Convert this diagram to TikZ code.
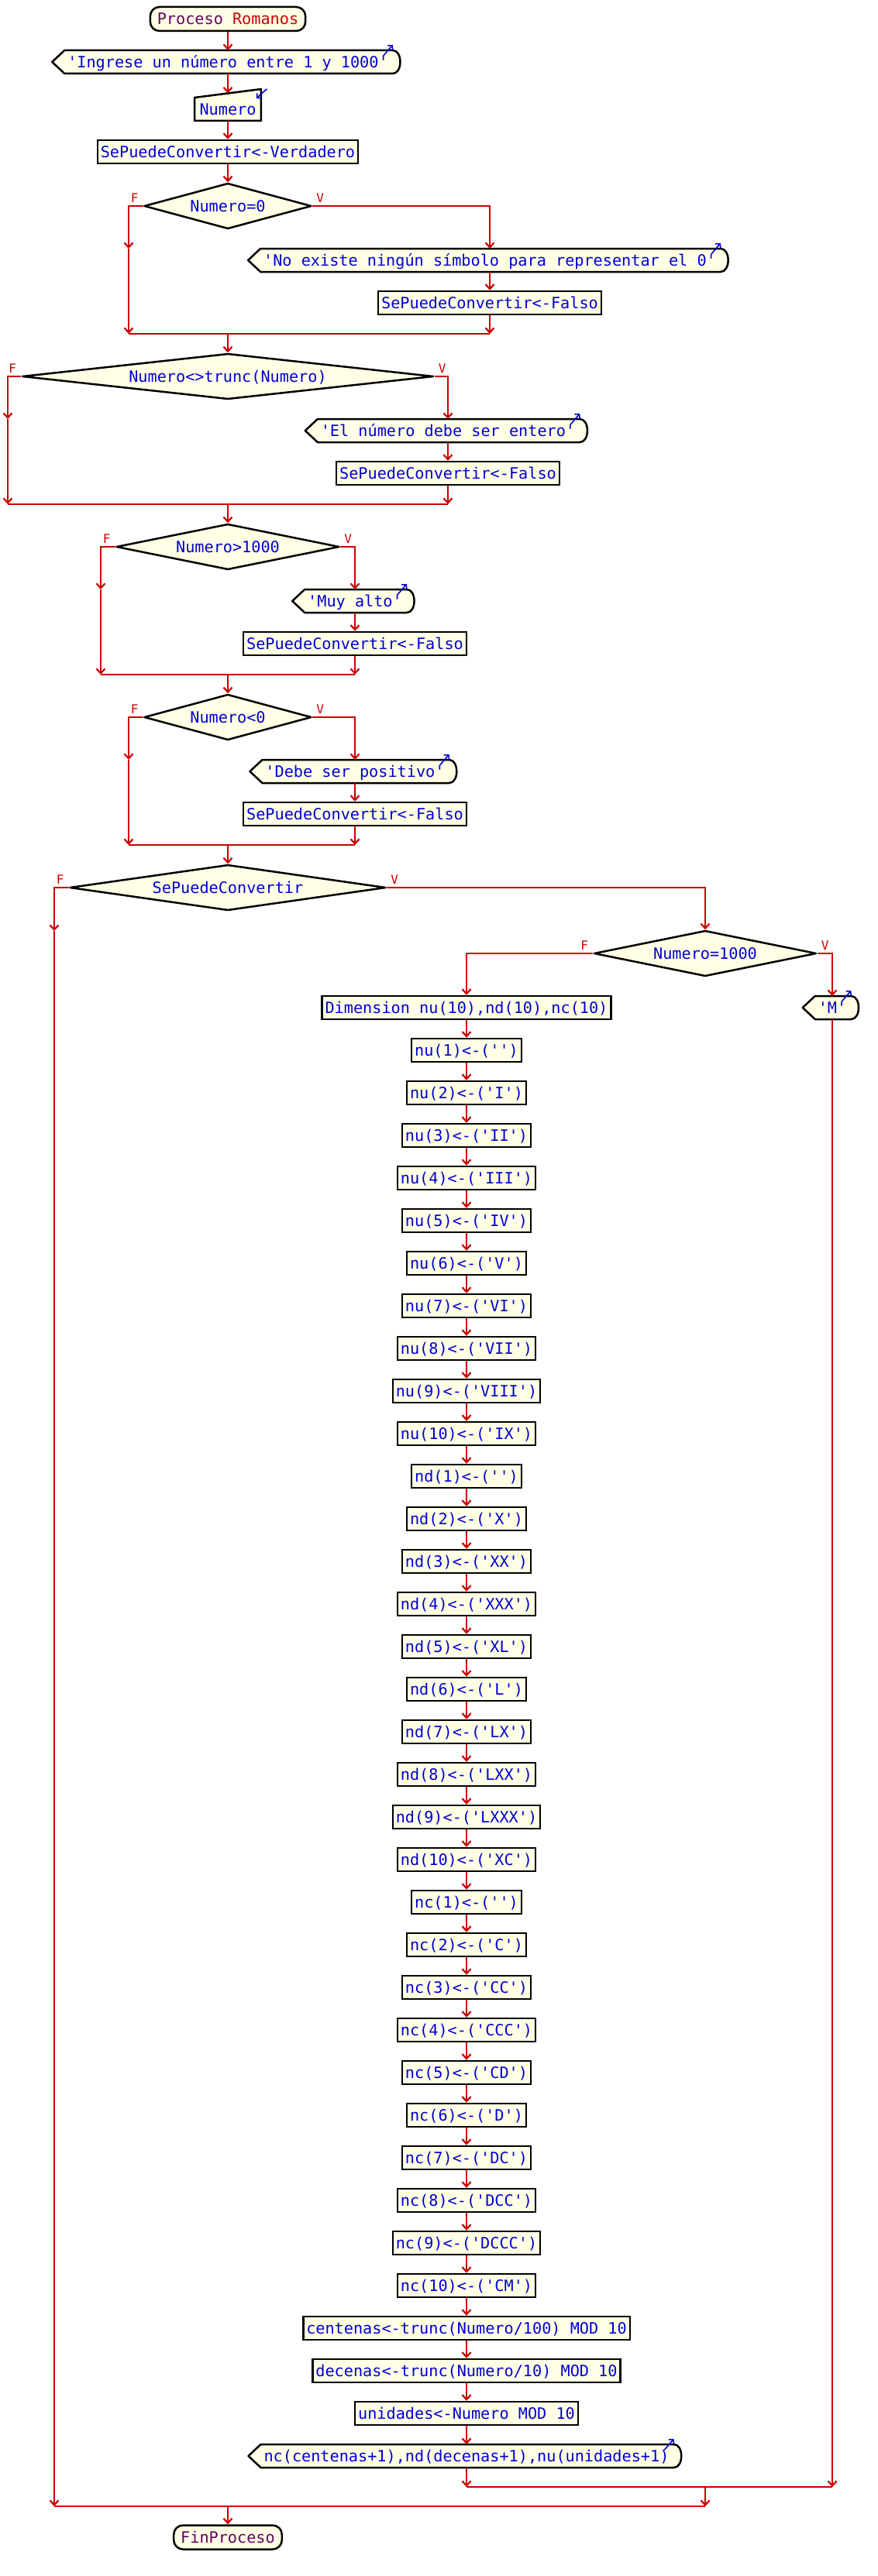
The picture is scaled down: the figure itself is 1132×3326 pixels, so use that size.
\documentclass[tikz,border=0pt]{standalone}
\usepackage{fontspec}
\setmonofont{DejaVu Sans Mono}
\usetikzlibrary{arrows.meta,shapes.geometric,calc,backgrounds}
\definecolor{flowred}{RGB}{204,0,0}
\definecolor{txtblue}{RGB}{0,0,210}
\definecolor{boxfill}{RGB}{255,255,230}
\definecolor{procpurple}{RGB}{102,0,102}
\tikzset{
  base/.style={font={\fontsize{20.2}{24}\ttfamily}, text=txtblue, text height=14.6pt, text depth=0pt, inner ysep=0pt, minimum height=30pt},
  proc/.style={base, draw=black, fill=boxfill, line width=2.5pt, inner xsep=4pt},
  dec/.style={base, diamond, draw=black, fill=boxfill, line width=2.5pt, line join=round, inner sep=0pt, minimum height=59pt},
  outtext/.style={base, inner xsep=0pt, outer sep=0pt},
  termin/.style={base, draw=black, fill=boxfill, line width=2.5pt, rounded corners=12pt, inner xsep=9pt, minimum height=31pt, text=procpurple},
  flow/.style={draw=flowred, line width=2.2pt},
  arr/.style={flow, -{Straight Barb[length=6pt,width=11pt]}},
  lbl/.style={font={\fontsize{16}{18}\ttfamily}, text=flowred, inner sep=0pt},
  shapeline/.style={draw=black, fill=boxfill, line width=2.5pt, line join=round},
  bluearr/.style={draw=txtblue, line width=1.6pt, line cap=round, -{Straight Barb[length=4pt,width=9pt,line width=1.6pt]}},
}
\newcommand\dispout[1]{%
  \begin{pgfonlayer}{background}
  \path[shapeline] ($(#1.west)+(-20,0)$) -- ($(#1.north west)+(-4,0)$) -- ($(#1.north east)+(6,0)$)
    .. controls ($(#1.north east)+(19,0)$) and ($(#1.south east)+(19,0)$) .. ($(#1.south east)+(6,0)$)
    -- ($(#1.south west)+(-4,0)$) -- cycle;
  \end{pgfonlayer}
  \draw[bluearr] ($(#1.north east)+(-6,7)$) -- ($(#1.north east)+(6,-7)$);
}
\begin{document}
\begin{tikzpicture}[x=1pt,y=-1pt]
\useasboundingbox (0,0) rectangle (1132,3326);

% top
\node[termin] (start) at (294,24.5) {{\color{procpurple}Proceso} {\color{flowred}Romanos}};
\node[outtext] (o0) at (294,80) {'Ingrese un número entre 1 y 1000'};
\dispout{o0}
\node[outtext, inner xsep=6.5pt] (inp) at (294,141) {Numero};
\begin{pgfonlayer}{background}
\path[shapeline] (inp.south west) -- (inp.north west) -- ($(inp.north east)+(0,-11)$) -- (inp.south east) -- cycle;
\end{pgfonlayer}
\draw[bluearr] ($(inp.north east)+(7,-11)$) -- ($(inp.north east)+(-6,1)$);
\node[proc] (ver) at (294,196) {SePuedeConvertir<-Verdadero};
\draw[arr] (start) -- (o0);
\draw[arr] (o0) -- ($(inp.north)+(0,-5.5)$);
\draw[arr] (inp) -- (ver);

% if 1
\node[dec, minimum width=216pt, aspect=3.66] (d1) at (294,266) {Numero=0};
\node[outtext] (o1) at (632,336) {'No existe ningún símbolo para representar el 0'};
\dispout{o1}
\node[proc] (f1) at (632,391) {SePuedeConvertir<-Falso};
\coordinate (m1f) at (166,321);
\coordinate (m1l) at (166,431);
\coordinate (m1r) at (632,431);
\coordinate (m1) at (294,431);
\draw[arr] (ver) -- (d1);
\draw[arr] (d1.east) -| (o1.north);
\draw[arr] (o1) -- (f1);
\draw[arr] (f1) -- (m1r);
\draw[arr] (d1.west) -| (m1f);
\draw[arr] (m1f) -- (m1l);
\draw[flow] (m1l) -- (m1r);
\node[lbl] (d1F) at ($(d1.west)+(-11,-10)$) {F};
\node[lbl] (d1V) at ($(d1.east)+(10,-10)$) {V};

% if 2
\node[dec, minimum width=531pt, aspect=9] (d2) at (294,486) {Numero<>trunc(Numero)};
\node[outtext] (o2) at (578,556) {'El número debe ser entero'};
\dispout{o2}
\node[proc] (f2) at (578,611) {SePuedeConvertir<-Falso};
\coordinate (m2f) at (10,541);
\coordinate (m2l) at (10,651);
\coordinate (m2r) at (578,651);
\coordinate (m2) at (294,651);
\draw[arr] (m1) -- (d2);
\draw[arr] (d2.east) -| (o2.north);
\draw[arr] (o2) -- (f2);
\draw[arr] (f2) -- (m2r);
\draw[arr] (d2.west) -| (m2f);
\draw[arr] (m2f) -- (m2l);
\draw[flow] (m2l) -- (m2r);
\node[lbl] (d2F) at ($(d2.west)+(-11,-10)$) {F};
\node[lbl] (d2V) at ($(d2.east)+(10,-10)$) {V};

% if 3
\node[dec, minimum width=288pt, aspect=4.88] (d3) at (294,706) {Numero>1000};
\node[outtext] (o3) at (458,776) {'Muy alto'};
\dispout{o3}
\node[proc] (f3) at (458,831) {SePuedeConvertir<-Falso};
\coordinate (m3f) at (130,761);
\coordinate (m3l) at (130,871);
\coordinate (m3r) at (458,871);
\coordinate (m3) at (294,871);
\draw[arr] (m2) -- (d3);
\draw[arr] (d3.east) -| (o3.north);
\draw[arr] (o3) -- (f3);
\draw[arr] (f3) -- (m3r);
\draw[arr] (d3.west) -| (m3f);
\draw[arr] (m3f) -- (m3l);
\draw[flow] (m3l) -- (m3r);
\node[lbl] (d3F) at ($(d3.west)+(-11,-10)$) {F};
\node[lbl] (d3V) at ($(d3.east)+(10,-10)$) {V};

% if 4
\node[dec, minimum width=216pt, aspect=3.66] (d4) at (294,926) {Numero<0};
\node[outtext] (o4) at (458,996) {'Debe ser positivo'};
\dispout{o4}
\node[proc] (f4) at (458,1051) {SePuedeConvertir<-Falso};
\coordinate (m4f) at (166,981);
\coordinate (m4l) at (166,1091);
\coordinate (m4r) at (458,1091);
\coordinate (m4) at (294,1091);
\draw[arr] (m3) -- (d4);
\draw[arr] (d4.east) -| (o4.north);
\draw[arr] (o4) -- (f4);
\draw[arr] (f4) -- (m4r);
\draw[arr] (d4.west) -| (m4f);
\draw[arr] (m4f) -- (m4l);
\draw[flow] (m4l) -- (m4r);
\node[lbl] (d4F) at ($(d4.west)+(-11,-10)$) {F};
\node[lbl] (d4V) at ($(d4.east)+(10,-10)$) {V};

% if 5
\node[dec, minimum width=408pt, aspect=6.9] (d5) at (294,1146) {SePuedeConvertir};
\node[dec, minimum width=287pt, aspect=4.86] (d6) at (910,1231) {Numero=1000};
\draw[arr] (m4) -- (d5);
\draw[arr] (d5.east) -| (d6.north);
\coordinate (m5f) at (70,1202);
\coordinate (m5l) at (70,3236);
\coordinate (m5r) at (910,3236);
\coordinate (m5) at (294,3236);
\draw[arr] (d5.west) -| (m5f);
\draw[arr] (m5f) -- (m5l);
\node[lbl] (d5F) at ($(d5.west)+(-11,-10)$) {F};
\node[lbl] (d5V) at ($(d5.east)+(10,-10)$) {V};
\node[lbl] (d6F) at ($(d6.west)+(-11,-10)$) {F};
\node[lbl] (d6V) at ($(d6.east)+(10,-10)$) {V};

% V branch of Numero=1000
\node[outtext] (oM) at (1074,1301) {'M'};
\dispout{oM}
\draw[arr] (d6.east) -| (oM.north);
\coordinate (m6l) at (602,3211);
\coordinate (m6r) at (1074,3211);
\coordinate (m6) at (910,3211);
\draw[arr] (oM) -- (m6r);

% F branch of Numero=1000
\node[proc] (a0) at (602,1301) {Dimension nu(10),nd(10),nc(10)};
\draw[arr] (d6.west) -| (a0.north);
\foreach \t [count=\i] in {{nu(1)<-('')},{nu(2)<-('I')},{nu(3)<-('II')},{nu(4)<-('III')},{nu(5)<-('IV')},{nu(6)<-('V')},{nu(7)<-('VI')},{nu(8)<-('VII')},{nu(9)<-('VIII')},{nu(10)<-('IX')},{nd(1)<-('')},{nd(2)<-('X')},{nd(3)<-('XX')},{nd(4)<-('XXX')},{nd(5)<-('XL')},{nd(6)<-('L')},{nd(7)<-('LX')},{nd(8)<-('LXX')},{nd(9)<-('LXXX')},{nd(10)<-('XC')},{nc(1)<-('')},{nc(2)<-('C')},{nc(3)<-('CC')},{nc(4)<-('CCC')},{nc(5)<-('CD')},{nc(6)<-('D')},{nc(7)<-('DC')},{nc(8)<-('DCC')},{nc(9)<-('DCCC')},{nc(10)<-('CM')},{centenas<-trunc(Numero/100) MOD 10},{decenas<-trunc(Numero/10) MOD 10},{unidades<-Numero MOD 10}}{
  \pgfmathtruncatemacro\j{\i-1}
  \node[proc] (a\i) at (602,{1301+55*\i}) {\t};
  \draw[arr] (a\j) -- (a\i);
}
\node[outtext] (a34) at (602,3171) {nc(centenas+1),nd(decenas+1),nu(unidades+1)};
\dispout{a34}
\draw[arr] (a33) -- (a34);
\draw[arr] (a34) -- (m6l);
\draw[flow] (m6l) -- (m6r);
\draw[arr] (m6) -- (m5r);
\draw[flow] (m5l) -- (m5r);

% end
\node[termin] (fin) at (294,3276) {FinProceso};
\draw[arr] (m5) -- (fin);
\end{tikzpicture}
\end{document}
